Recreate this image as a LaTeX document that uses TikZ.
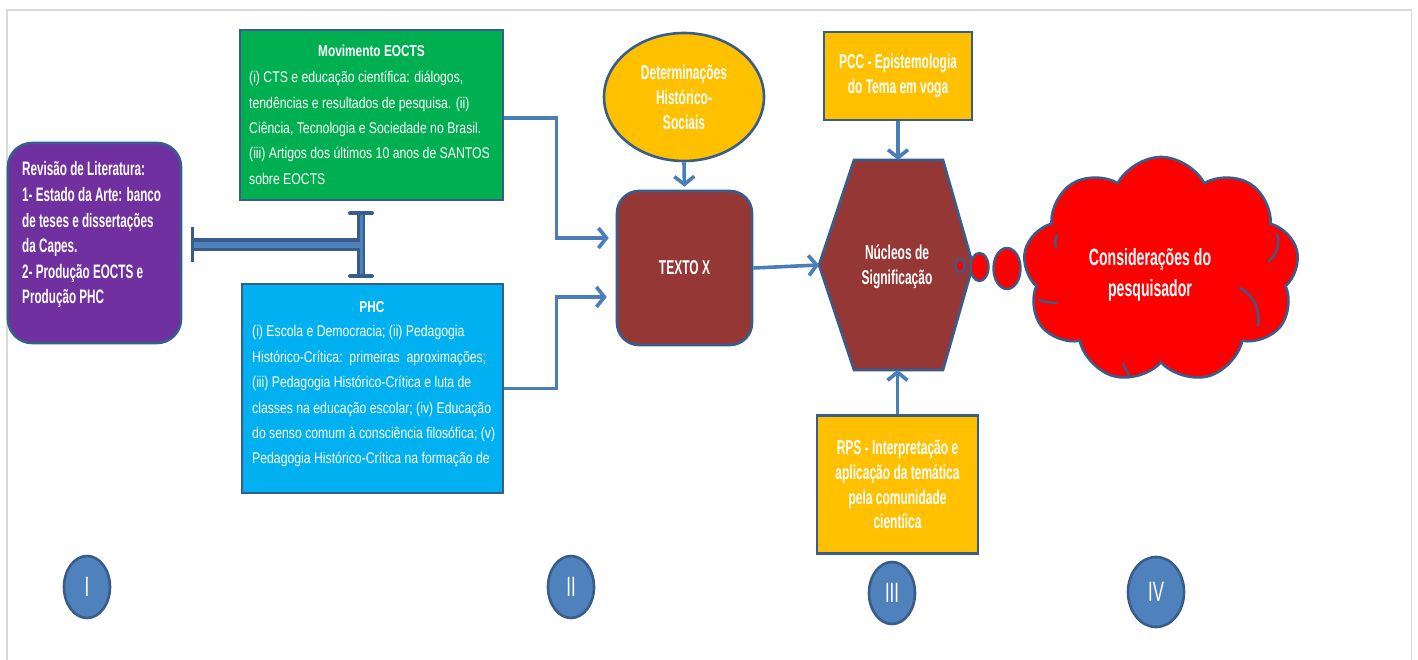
\documentclass[tikz,border=0pt]{standalone}
\usepackage{fontspec}
\setmainfont{Liberation Sans}[FakeStretch=0.75]
\newfontfamily\bodyfont{Liberation Sans}[FakeStretch=0.79]
\newfontfamily\narrowfont{Liberation Sans}[FakeStretch=0.6]
\usetikzlibrary{arrows.meta,shapes.geometric,shapes.symbols,calc}

\definecolor{edge}{HTML}{385D8A}
\definecolor{linkblue}{HTML}{4A7EBB}
\definecolor{accent}{HTML}{4F81BD}
\definecolor{purplebox}{HTML}{7030A0}
\definecolor{greenbox}{HTML}{00B050}
\definecolor{cyanbox}{HTML}{00B0F0}
\definecolor{goldbox}{HTML}{FFC000}
\definecolor{brick}{HTML}{953735}
\definecolor{framegray}{HTML}{D9D9D9}

\tikzset{
  panel/.style={draw=edge, line width=2.6pt, text=white, inner sep=0pt},
  headtext/.style={text=white, inner sep=0pt, font=\bfseries\fontsize{15.8}{25}\selectfont},
  bodytext/.style={text=white, inner sep=0pt, align=left, font=\bodyfont\fontsize{15.5}{25.4}\selectfont},
  bigtext/.style={text=white, align=center, font=\narrowfont\bfseries\fontsize{20}{25}\selectfont},
  link/.style={draw=linkblue, line width=3.6pt, -{Straight Barb[length=8pt,width=20pt]}},
  roman/.style={ellipse, draw=edge, line width=2.6pt, fill=accent, text=white, inner sep=0pt,
                font=\narrowfont\fontsize{28}{28}\selectfont},
  bubble/.style={ellipse, draw=edge, line width=2.4pt, fill=red, inner sep=0pt},
  puffline/.style={draw=edge, line width=2.4pt, line cap=round},
}

\begin{document}
\begin{tikzpicture}[x=1pt,y=-1pt]
  % page and frame
  \fill[white] (0,0) rectangle (1418,660);
  \useasboundingbox (0,0) rectangle (1418,660);
  \draw[framegray, line width=1.6pt] (7,662) -- (7,10) -- (1411.5,10) -- (1411.5,662);

  % stage I: literature review
  \node (lit) [panel, fill=purplebox, rounded corners=24pt, minimum width=173pt, minimum height=200pt] at (94.5,243) {};
  \node (littext) [text=white, inner sep=0pt, align=left, anchor=north west,
                   font=\narrowfont\bfseries\fontsize{19.5}{25.6}\selectfont] at (22,161.5)
    {Revisão de Literatura:\\1- Estado da Arte: banco\\de teses e dissertações\\da Capes.\\2- Produção EOCTS e\\Produção PHC};

  % stage II: the two source boxes
  \node (eocts) [panel, fill=greenbox, minimum width=263pt, minimum height=170pt] at (371.5,115) {};
  \node (eoctshead) [headtext, anchor=base] at (371.5,57) {Movimento EOCTS};
  \node (eoctsbody) [bodytext, anchor=north west] at (249,71)
    {(i) CTS e educação científica: diálogos,\\tendências e resultados de pesquisa. (ii)\\Ciência, Tecnologia e Sociedade no Brasil.\\(iii) Artigos dos últimos 10 anos de SANTOS\\sobre EOCTS};

  \node (phc) [panel, fill=cyanbox, minimum width=261pt, minimum height=209pt] at (372.5,388.5) {};
  \node (phchead) [headtext, anchor=base] at (372,312.5) {PHC};
  \node (phcbody) [bodytext, anchor=north west] at (252,325.5)
    {(i) Escola e Democracia; (ii) Pedagogia\\Histórico-Crítica:\ \ primeiras\ \ aproximações;\\(iii) Pedagogia Histórico-Crítica e luta de\\classes na educação escolar; (iv) Educação\\do senso comum à consciência filosófica; (v)\\Pedagogia Histórico-Crítica na formação de};

  % bar connector between the review and the two sources
  \coordinate (ibL) at ($(lit.east)+(10.5,2)$);
  \coordinate (ibR) at (361,245);
  \coordinate (ibT) at ($(ibR)+(0,-31.5)$);
  \coordinate (ibB) at ($(ibR)+(0,31)$);
  \draw[edge, line width=13pt] (ibL) -- (ibR);
  \draw[edge, line width=8.5pt] (ibT) -- (ibB);
  \draw[accent, line width=6.5pt] (ibL) -- (ibR);
  \draw[accent, line width=3pt] (ibT) -- (ibB);
  \draw[edge, line width=3pt] ($(ibL)+(0,-18)$) -- ($(ibL)+(0,17)$);
  \draw[edge, line width=4pt, line cap=round] ($(ibT)+(-11,0)$) -- ($(ibT)+(11,0)$);
  \draw[edge, line width=4pt, line cap=round] ($(ibB)+(-11,0)$) -- ($(ibB)+(11,0)$);

  % central text and its determinations
  \node (det) [ellipse, draw=edge, line width=2.6pt, fill=goldbox, inner sep=0pt,
               minimum width=160pt, minimum height=128pt, bigtext] at (684,97)
    {Determinações\\Histórico-\\Sociais};
  \node (textx) [panel, fill=brick, rounded corners=22pt, minimum width=135pt, minimum height=154pt,
                 bigtext] at (684.5,268) {TEXTO X};

  \coordinate (jt) at ($(textx.west)+(-7,-30)$);
  \coordinate (jb) at ($(textx.west)+(-9,29)$);
  \draw[link] ($(eocts.east)+(0,3)$) -- ++(52,0) |- (jt);
  \draw[link] (phc.east) -- ++(52,0) |- (jb);
  \draw[link, shorten >=3pt] (det.south) -- (textx.north);

  % stage III: nuclei of signification
  \coordinate (hexC) at (897,265);
  \coordinate (hexW) at ($(hexC)+(-78,0)$);
  \coordinate (hexE) at ($(hexC)+(76,0)$);
  \coordinate (hexN) at ($(hexC)+(0,-105)$);
  \coordinate (hexS) at ($(hexC)+(0,105)$);
  \draw[edge, line width=2.6pt, fill=brick, line join=miter]
    (hexW) -- ($(hexC)+(-43,-105)$) -- ($(hexC)+(46,-105)$) -- (hexE)
    -- ($(hexC)+(46,105)$) -- ($(hexC)+(-43,105)$) -- cycle;
  \node (nuc) [bigtext, inner sep=0pt] at ($(hexC)+(0,1.5)$) {Núcleos de\\Significação};

  \node (pcc) [panel, fill=goldbox, minimum width=148pt, minimum height=88pt, bigtext,
               font=\narrowfont\bfseries\fontsize{20}{24.5}\selectfont] at (898,76)
    {PCC - Epistemologia\\do Tema em voga};
  \node (rps) [panel, fill=goldbox, minimum width=161pt, minimum height=138pt, bigtext,
               font=\narrowfont\bfseries\fontsize{20}{24.8}\selectfont] at (897.5,484.5)
    {RPS - Interpretação e\\aplicação da temática\\pela comunidade\\cientíica};

  \draw[link] (textx.east) -- (hexW);
  \draw[link] (pcc.south) -- (pcc.south |- hexN);
  \draw[link] (rps.north) -- (rps.north |- hexS);

  % stage IV: thought bubble
  \node (b1) [bubble, minimum width=9pt, minimum height=13pt] at (960,265.5) {};
  \node (b2) [bubble, minimum width=18pt, minimum height=28pt] at (979.5,267) {};
  \node (b3) [bubble, minimum width=27pt, minimum height=41pt] at (1007,268.5) {};
  \node (cons) [cloud, cloud puffs=9, cloud puff arc=125, cloud ignores aspect,
                minimum width=276pt, minimum height=226pt, inner sep=0pt,
                draw=edge, line width=2.6pt, fill=red] at (1161,270) {};
  % inner puff seams of the cloud
  \draw[puffline] ($(cons)+(79,18)$) .. controls ($(cons)+(94,26)$) and ($(cons)+(99,41)$) .. ($(cons)+(97,56)$);
  \draw[puffline] ($(cons)+(116,-36)$) .. controls ($(cons)+(119,-25)$) and ($(cons)+(116,-16)$) .. ($(cons)+(108,-9)$);
  \draw[puffline] ($(cons)+(-122,30)$) .. controls ($(cons)+(-116,32)$) and ($(cons)+(-110,33)$) .. ($(cons)+(-104,33)$);
  \draw[puffline] ($(cons)+(-105,-22)$) .. controls ($(cons)+(-106,-27)$) and ($(cons)+(-106,-31)$) .. ($(cons)+(-104,-35)$);
  \draw[puffline] ($(cons)+(-38,94)$) .. controls ($(cons)+(-36,98)$) and ($(cons)+(-34,102)$) .. ($(cons)+(-32,105)$);
  \node (constext) [bigtext, inner sep=0pt, font=\narrowfont\bfseries\fontsize{23.5}{31}\selectfont]
    at (1150,275) {Considerações do\\pesquisador};

  % stage labels
  \node (s1) [roman, minimum width=46pt, minimum height=62pt] at (87,587) {I};
  \node (s2) [roman, minimum width=46pt, minimum height=62pt] at (571,587) {II};
  \node (s3) [roman, minimum width=46pt, minimum height=62pt] at (892,593) {III};
  \node (s4) [roman, minimum width=56pt, minimum height=70pt] at (1156,592) {IV};
\end{tikzpicture}
\end{document}
